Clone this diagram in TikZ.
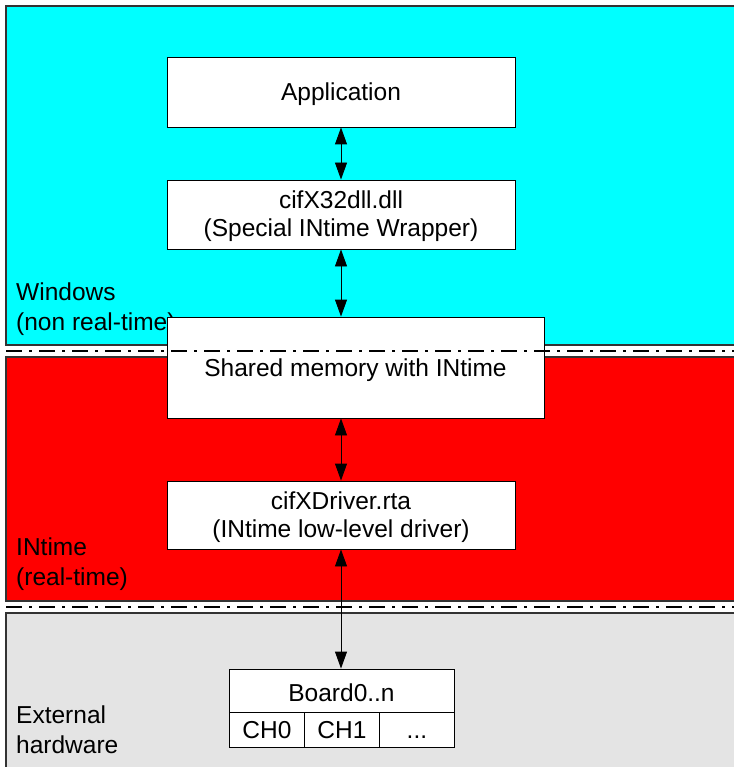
\documentclass[tikz,border=0pt]{standalone}
\usepackage{fontspec}
\setmainfont[Ligatures=NoCommon]{Liberation Sans}
\usetikzlibrary{arrows.meta}
\definecolor{winc}{HTML}{00FFFF}
\definecolor{rtc}{HTML}{FF0000}
\definecolor{hwc}{HTML}{E4E4E4}
\definecolor{edgec}{HTML}{333333}
\newcommand{\lowr}[1]{\raisebox{-2.5pt}[\height][\depth]{#1}}
\tikzset{
  region/.style={draw=edgec, line width=1.6pt},
  box/.style={draw=black, fill=white, line width=0.9pt, align=center, inner sep=0pt,
    font=\fontsize{24.5}{28}\selectfont},
  lbl/.style={anchor=north west, align=left, inner sep=0pt,
    font=\fontsize{24.5}{30}\selectfont},
  link/.style={line width=0.9pt, {Triangle[length=17pt,width=12pt]}-{Triangle[length=17pt,width=12pt]}},
  sep/.style={line width=2.4pt, dash pattern=on 16pt off 7pt on 3pt off 7pt}
}
\begin{document}
\begin{tikzpicture}[x=1pt,y=-1pt]
\useasboundingbox (0,0) rectangle (734,767);
% regions
\path[fill=winc] (6,6) rectangle (734,345);
\draw[region] (734,6) -- (6,6) -- (6,345) -- (734,345);
\path[fill=rtc] (6,357) rectangle (734,601);
\draw[region] (734,357) -- (6,357) -- (6,601) -- (734,601);
\path[fill=hwc] (6,613) rectangle (734,767);
\draw[region] (734,613) -- (6,613) -- (6,767);
% region labels
\node[lbl] (lwin) at (16,283) {Windows\\(non real-time)};
\node[lbl] (lrt) at (16,538) {INtime\\(real-time)};
\node[lbl] (lhw) at (16,706) {External\\hardware};
% boxes
\node[box, minimum width=348pt, minimum height=70pt] (app) at (341,92) {\lowr{Application}};
\node[box, minimum width=348pt, minimum height=69pt] (dll) at (341,214.5) {\lowr{\begin{tabular}{@{}c@{}}cifX32dll.dll\\(Special INtime Wrapper)\end{tabular}}};
\node[box, minimum width=377pt, minimum height=101pt] (shm) at (355.5,367.5) {\lowr{Shared memory with INtime}};
\node[box, minimum width=348pt, minimum height=68pt] (drv) at (341,515) {\lowr{\begin{tabular}{@{}c@{}}cifXDriver.rta\\(INtime low-level driver)\end{tabular}}};
\node[box, minimum width=225pt, minimum height=43pt] (board) at (341.5,690.5) {\lowr{Board0..n}};
\node[box, minimum width=75pt, minimum height=35pt, anchor=north west] (ch0) at (229,712) {CH0};
\node[box, minimum width=75pt, minimum height=35pt, anchor=north west] (ch1) at (304,712) {CH1};
\node[box, minimum width=75pt, minimum height=35pt, anchor=north west] (chn) at (379,712) {\vphantom{CH0}.\kern0pt.\kern0pt.};
% connectors
\draw[link] (app.south) -- (dll.north);
\draw[link] (dll.south) -- (dll.south |- shm.north);
\draw[link] (drv.north |- shm.south) -- (drv.north);
\draw[link] (drv.south) -- (drv.south |- board.north);
% separators
\coordinate (s1a) at (6,351);
\coordinate (s1b) at (734,351);
\coordinate (s2a) at (6,607);
\coordinate (s2b) at (734,607);
\draw[sep] (s1a) -- (s1b);
\draw[sep] (s2a) -- (s2b);
\end{tikzpicture}
\end{document}
